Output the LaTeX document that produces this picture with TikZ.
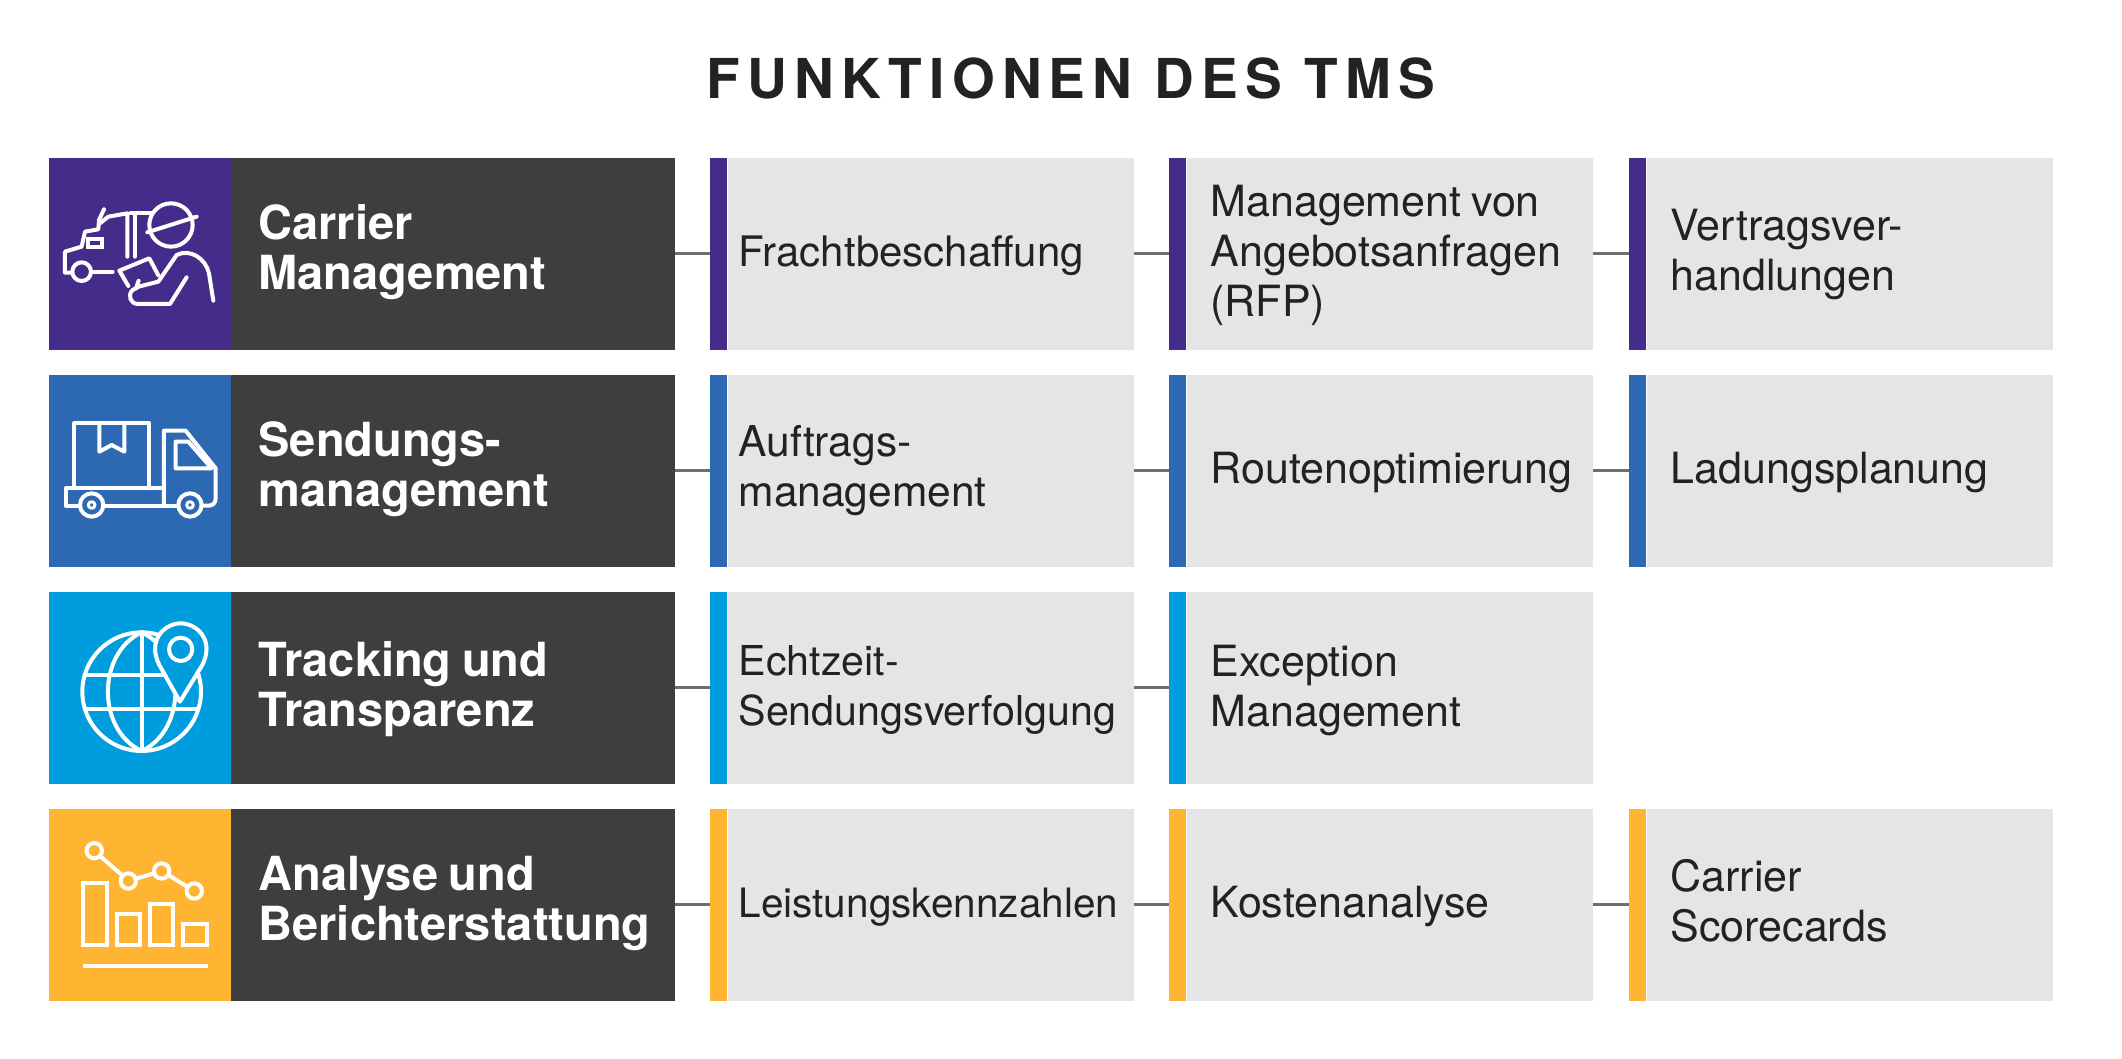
\documentclass[tikz,border=0pt]{standalone}
\usepackage{fontspec}
\setmainfont[WordSpace=0.8]{TeX Gyre Heros}
\newfontfamily\titlefont[LetterSpace=13]{TeX Gyre Heros}
\definecolor{cpurple}{HTML}{452C8A}
\definecolor{cblue}{HTML}{2D68B2}
\definecolor{ccyan}{HTML}{009DDE}
\definecolor{cyellow}{HTML}{FFB432}
\definecolor{cdark}{HTML}{3E3E3E}
\definecolor{cgrey}{HTML}{E5E5E5}
\definecolor{cline}{HTML}{6E6E6E}
\definecolor{ctext}{HTML}{222222}
\tikzset{
  iconbox/.style={anchor=north west,inner sep=0pt,minimum width=181.5pt,minimum height=191.5pt},
  headbox/.style={anchor=north west,fill=cdark,inner sep=0pt,minimum height=191.5pt,minimum width=444pt,xshift=-0.5pt},
  barbox/.style={anchor=north west,inner sep=0pt,minimum width=17pt,minimum height=191.5pt},
  itembox/.style={anchor=north west,fill=cgrey,inner sep=0pt,minimum height=191.5pt,minimum width=406pt},
  headtext/.style={anchor=west,inner sep=0pt,text=white,align=left,yshift=-1pt,execute at begin node=\strut,execute at end node=\strut,font=\fontsize{47}{50}\selectfont\bfseries},
  itemtext/.style={anchor=west,inner sep=0pt,text=ctext,align=left,yshift=-2.5pt,execute at begin node=\strut,execute at end node=\strut,font=\fontsize{#1}{50}\selectfont},
  itemtext/.default=43,
  link/.style={draw=cline,line width=3pt},
  ico/.style={draw=white,line width=4pt,line cap=round,line join=round},
  izoom/.style={x=0.3333pt,y=-0.3333pt}
}
\begin{document}
\begin{tikzpicture}[x=1pt,y=-1pt]
\useasboundingbox[fill=white] (0,0) rectangle (2122,1059);
\node[inner sep=0pt,text=ctext,font=\fontsize{55}{60}\titlefont\bfseries] (title) at (1071,78) {FUNKTIONEN DES TMS};

% Row 1
\node[iconbox,fill=cpurple] (i1) at (49,158) {};
\node[headbox] (h1) at (i1.north east) {};
\node[barbox,fill=cpurple] (b11) at (710,158) {};
\node[itembox] (t11) at (b11.north east) {};
\node[barbox,fill=cpurple] (b12) at (1169,158) {};
\node[itembox] (t12) at (b12.north east) {};
\node[barbox,fill=cpurple] (b13) at (1629,158) {};
\node[itembox] (t13) at (b13.north east) {};
% Row 2
\node[iconbox,fill=cblue] (i2) at (49,375) {};
\node[headbox] (h2) at (i2.north east) {};
\node[barbox,fill=cblue] (b21) at (710,375) {};
\node[itembox] (t21) at (b21.north east) {};
\node[barbox,fill=cblue] (b22) at (1169,375) {};
\node[itembox] (t22) at (b22.north east) {};
\node[barbox,fill=cblue] (b23) at (1629,375) {};
\node[itembox] (t23) at (b23.north east) {};
% Row 3
\node[iconbox,fill=ccyan] (i3) at (49,592) {};
\node[headbox] (h3) at (i3.north east) {};
\node[barbox,fill=ccyan] (b31) at (710,592) {};
\node[itembox] (t31) at (b31.north east) {};
\node[barbox,fill=ccyan] (b32) at (1169,592) {};
\node[itembox] (t32) at (b32.north east) {};
% Row 4
\node[iconbox,fill=cyellow] (i4) at (49,809) {};
\node[headbox] (h4) at (i4.north east) {};
\node[barbox,fill=cyellow] (b41) at (710,809) {};
\node[itembox] (t41) at (b41.north east) {};
\node[barbox,fill=cyellow] (b42) at (1169,809) {};
\node[itembox] (t42) at (b42.north east) {};
\node[barbox,fill=cyellow] (b43) at (1629,809) {};
\node[itembox] (t43) at (b43.north east) {};

% Texts
\node[headtext] (lh1) at ([xshift=28pt]h1.west) {Carrier\\Management};
\node[headtext] (lh2) at ([xshift=28pt]h2.west) {Sendungs-\\management};
\node[headtext,yshift=-3pt] (lh3) at ([xshift=28pt]h3.west) {Tracking und\\Transparenz};
\node[headtext] (lh4) at ([xshift=28pt]h4.west) {Analyse und\\Berichterstattung};
\node[itemtext=42] (l11) at ([xshift=11pt]t11.west) {Frachtbeschaffung};
\node[itemtext,yshift=-1.5pt] (l12) at ([xshift=24pt]t12.west) {Management von\\Angebotsanfragen\\(RFP)};
\node[itemtext,yshift=-1pt] (l13) at ([xshift=24pt]t13.west) {Vertragsver-\\handlungen};
\node[itemtext=42.5] (l21) at ([xshift=11pt]t21.west) {Auftrags-\\management};
\node[itemtext] (l22) at ([xshift=24pt]t22.west) {Routenoptimierung};
\node[itemtext] (l23) at ([xshift=24pt]t23.west) {Ladungsplanung};
\node[itemtext=41.2,yshift=-3pt] (l31) at ([xshift=11pt]t31.west) {Echtzeit-\\Sendungsverfolgung};
\node[itemtext,yshift=-3pt] (l32) at ([xshift=24pt]t32.west) {Exception\\Management};
\node[itemtext=40.5] (l41) at ([xshift=11pt]t41.west) {Leistungskennzahlen};
\node[itemtext] (l42) at ([xshift=24pt]t42.west) {Kostenanalyse};
\node[itemtext] (l43) at ([xshift=24pt]t43.west) {Carrier\\Scorecards};

% Connectors
\draw[link] (h1.east) -- (b11.west);
\draw[link] (t11.east) -- (b12.west);
\draw[link] (t12.east) -- (b13.west);
\draw[link] (h2.east) -- (b21.west);
\draw[link] (t21.east) -- (b22.west);
\draw[link] (t22.east) -- (b23.west);
\draw[link] (h3.east) -- (b31.west);
\draw[link] (t31.east) -- (b32.west);
\draw[link] (h4.east) -- (b41.west);
\draw[link] (t41.east) -- (b42.west);
\draw[link] (t42.east) -- (b43.west);

% Icon 1
\begin{scope}[shift={(40,150)},izoom]
\draw[ico] (393,225) circle [radius=65];
\draw[ico] (322,247) -- (470,200);
\draw[ico] (520,452) -- (507,370) .. controls (497,325) and (450,295) .. (410,315) -- (355,395) -- (296,410) -- (278,420) .. controls (262,435) and (270,462) .. (295,462) -- (390,462) -- (440,382);
\draw[ico] (265,408) -- (238,362) -- (328,325) -- (355,376);
\draw[ico] (296,392) -- (288,415);
\draw[ico] (192,178) -- (177,210) -- (175,238) -- (135,245) -- (125,290) -- (75,305) -- (75,368) -- (95,368);
\draw[ico] (180,220) -- (205,200) -- (262,190) -- (262,320);
\draw[ico] (285,320) -- (285,190);
\draw[ico] (272,190) -- (335,190);
\draw[ico] (125,365) circle [radius=28];
\draw[ico] (155,365) -- (218,365);
\draw[ico,line join=miter] (143,268) rectangle (185,290);
\end{scope}

% Icon 2
\begin{scope}[shift={(40,370)},izoom]
\draw[ico] (103,355) -- (103,160) -- (328,160) -- (328,355);
\draw[ico] (178,160) -- (178,245) -- (215,225) -- (253,245) -- (253,160);
\draw[ico] (120,407) -- (77,407) -- (77,355) -- (370,355);
\draw[ico] (190,407) -- (415,407);
\draw[ico] (372,407) -- (372,182) -- (437,182) -- (527,295) -- (527,385) .. controls (527,400) and (518,407) .. (505,407) -- (485,407);
\draw[ico] (407,215) -- (445,215) -- (515,295) -- (407,295) -- cycle;
\foreach \cx in {155,450} {
  \draw[ico] (\cx,405) circle [radius=35];
  \draw[ico,line width=3pt] (\cx,405) circle [radius=10];
}
\end{scope}

% Icon 3
\begin{scope}[shift={(40,590)},izoom]
\draw[ico] (305,305) circle [radius=178];
\draw[ico] (305,127) .. controls (170,190) and (170,420) .. (305,483);
\draw[ico] (305,127) .. controls (440,190) and (440,420) .. (305,483);
\draw[ico] (305,127) -- (305,483);
\draw[ico] (135,255) -- (475,255);
\draw[ico] (135,357) -- (475,357);
\draw[ico,fill=ccyan] (420,335) -- (358,225) .. controls (320,150) and (375,100) .. (422,100) .. controls (470,100) and (525,150) .. (487,225) -- cycle;
\draw[ico] (422,178) circle [radius=35];
\end{scope}

% Icon 4
\begin{scope}[shift={(40,805)},izoom]
\draw[ico] (180,153) -- (248,212);
\draw[ico] (287,221) -- (343,205);
\draw[ico] (385,210) -- (443,246);
\foreach \px/\py in {163/137,265/228,365/198,463/258}
  \draw[ico] (\px,\py) circle [radius=23];
\draw[ico,line join=miter] (130,235) rectangle (200,420);
\draw[ico,line join=miter] (230,328) rectangle (300,420);
\draw[ico,line join=miter] (330,297) rectangle (400,420);
\draw[ico,line join=miter] (428,358) rectangle (500,420);
\draw[ico,line cap=butt] (128,482) -- (503,482);
\end{scope}
\end{tikzpicture}
\end{document}
